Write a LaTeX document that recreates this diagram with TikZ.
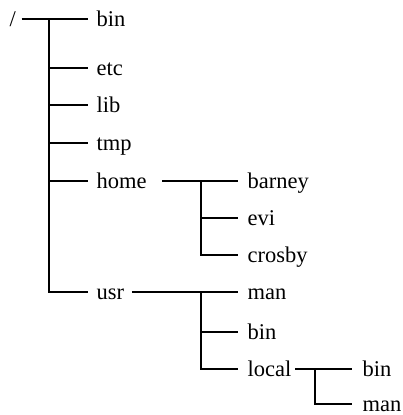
\documentclass[tikz,border=0pt]{standalone}
\usepackage{fontspec}
\setmainfont{Liberation Serif}
\begin{document}
\begin{tikzpicture}[x=1pt,y=-1pt,line width=1.4pt,
  lbl/.style={font=\fontsize{22.5}{22.5}\selectfont,inner sep=0pt,text height=15pt,text depth=0pt,anchor=west}]
\useasboundingbox (0,0) rectangle (402,415);
\node[lbl] (root) at (9,19) {/};
\node[lbl] (bin) at (96,19) {bin};
\node[lbl] (etc) at (96,68) {etc};
\node[lbl] (lib) at (96,105) {lib};
\node[lbl] (tmp) at (96,143) {tmp};
\node[lbl] (home) at (96,181) {home};
\node[lbl] (usr) at (96,292) {usr};
\node[lbl] (barney) at (247,181) {barney};
\node[lbl] (evi) at (247,218) {evi};
\node[lbl] (crosby) at (247,255) {crosby};
\node[lbl] (man) at (247,292) {man};
\node[lbl] (bintwo) at (247,332) {bin};
\node[lbl] (local) at (247,369) {local};
\node[lbl] (binthree) at (362,369) {bin};
\node[lbl] (mantwo) at (362,404) {man};
\coordinate (tr) at (49,19);
\coordinate (hb) at (201,181);
\coordinate (ub) at (201,292);
\coordinate (lb) at (315,369);
% root level
\draw ([xshift=5pt]root.east) -- ([xshift=-8pt]bin.west);
\draw (tr) |- ([xshift=-8pt]usr.west);
\foreach \n in {etc,lib,tmp,home}
  \draw (tr |- \n.west) -- ([xshift=-8pt]\n.west);
% home
\draw ([xshift=15pt]home.east) -- ([xshift=-9pt]barney.west);
\draw (hb) |- ([xshift=-9pt]crosby.west);
\draw (hb |- evi.west) -- ([xshift=-9pt]evi.west);
% usr
\draw ([xshift=7pt]usr.east) -- ([xshift=-9pt]man.west);
\draw (ub) |- ([xshift=-9pt]local.west);
\draw (ub |- bintwo.west) -- ([xshift=-9pt]bintwo.west);
% local
\draw ([xshift=3pt]local.east) -- ([xshift=-10pt]binthree.west);
\draw (lb) |- ([xshift=-10pt]mantwo.west);
\end{tikzpicture}
\end{document}
